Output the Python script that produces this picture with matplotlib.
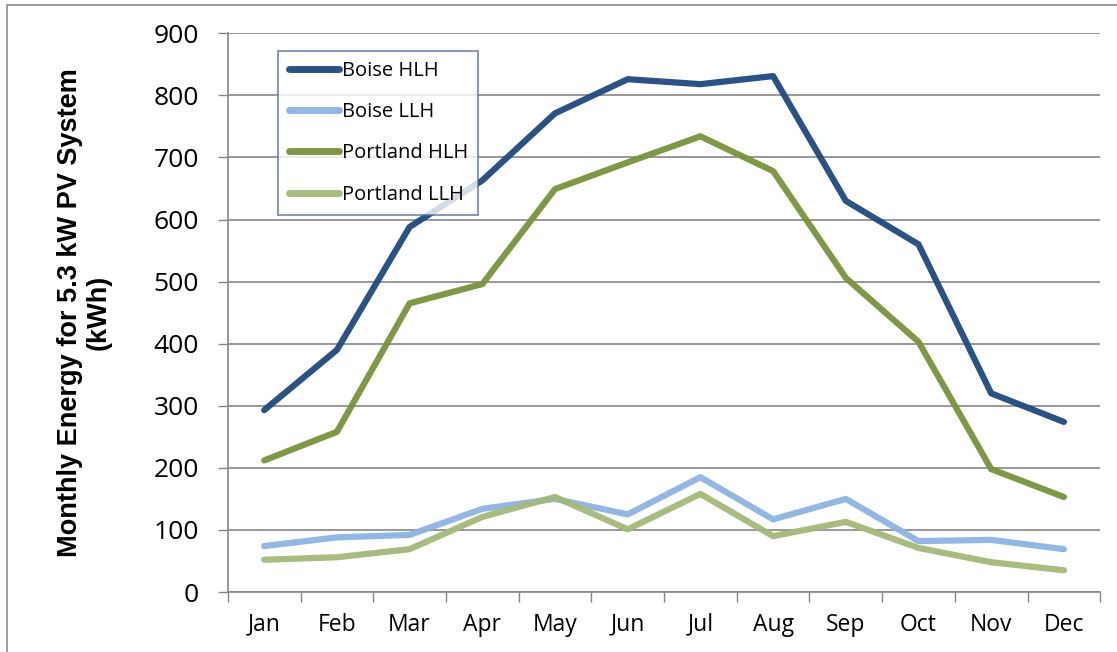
import matplotlib.pyplot as plt
import numpy as np
from matplotlib.patches import Rectangle

months = ['Jan', 'Feb', 'Mar', 'Apr', 'May', 'Jun', 'Jul', 'Aug', 'Sep', 'Oct', 'Nov', 'Dec']
boise_hlh = [293, 390, 588, 663, 771, 826, 818, 831, 630, 560, 320, 274]
boise_llh = [74, 88, 92, 134, 150, 125, 185, 117, 150, 82, 84, 69]
portland_hlh = [212, 258, 465, 496, 649, 692, 734, 678, 506, 403, 198, 153]
portland_llh = [52, 56, 69, 121, 153, 101, 158, 90, 113, 71, 48, 35]

plt.rcParams['font.family'] = ['Open Sans', 'DejaVu Sans']

fig = plt.figure(figsize=(11.17, 6.52), dpi=100)
ax = fig.add_axes([0.204, 0.092, 0.781, 0.857])

# outer chart border
fig.patches.append(Rectangle((7/1117, -0.1), 1.2, 1 - 5/652 + 0.1, transform=fig.transFigure,
                             fill=False, edgecolor='#8c8c8c', linewidth=1.2))

x = np.arange(len(months))
series = [
    ('Boise HLH', boise_hlh, '#1F497D'),
    ('Boise LLH', boise_llh, '#8DB3E2'),
    ('Portland HLH', portland_hlh, '#77933C'),
    ('Portland LLH', portland_llh, '#A3B979'),
]
for name, vals, col in series:
    ax.plot(x, vals, color=col, lw=4.5, solid_capstyle='round', solid_joinstyle='round',
            label=name, alpha=0.95)

ax.set_xlim(-0.5, 11.5)
ax.set_ylim(0, 900)
ax.set_yticks(range(0, 901, 100))
ax.yaxis.grid(True, color='#868686', lw=1.2)
ax.set_axisbelow(True)
ax.tick_params(axis='y', labelsize=19, length=7, width=1, color='#868686', pad=14)

ax.set_xticks(x)
ax.set_xticklabels(months)
ax.set_xticks(np.arange(-0.5, 12, 1), minor=True)
ax.tick_params(axis='x', which='major', length=0, labelsize=16.5, pad=15)
ax.tick_params(axis='x', which='minor', length=7, width=1, color='#868686')

for s in ['top', 'right']:
    ax.spines[s].set_visible(False)
for s in ['left', 'bottom']:
    ax.spines[s].set_color('#868686')
    ax.spines[s].set_linewidth(1.2)

ax.set_ylabel('Monthly Energy for 5.3 kW PV System\n(kWh)', fontsize=19.5,
              fontweight='bold', labelpad=30, linespacing=1.15,
              family=['Liberation Sans', 'DejaVu Sans'])

leg = ax.legend(loc='upper left', bbox_to_anchor=(0.058, 0.968), fontsize=14.5,
                frameon=True, fancybox=False, handlelength=2.5, handletextpad=0.15,
                labelspacing=1.05, borderpad=0.5, borderaxespad=0)
leg.get_frame().set_edgecolor('#4A6A94')
leg.get_frame().set_linewidth(1.2)
for line in leg.get_lines():
    line.set_linewidth(5)

fig.savefig('out.png', dpi=100)
